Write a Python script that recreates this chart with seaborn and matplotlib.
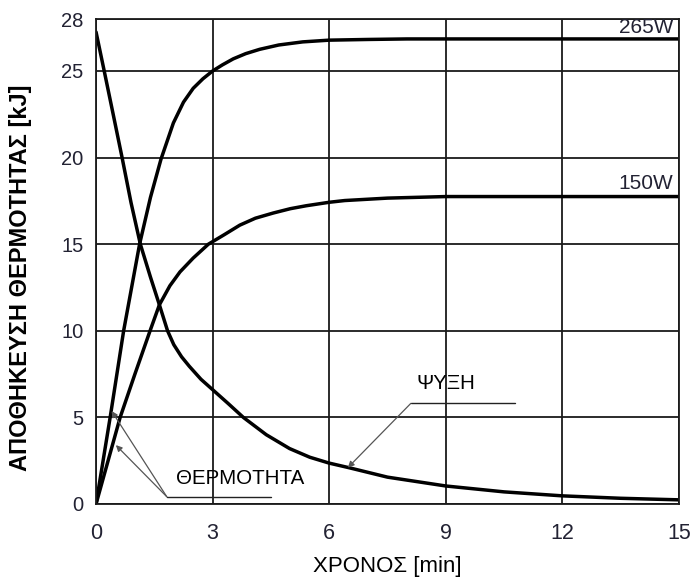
import numpy as np
import pandas as pd
import seaborn as sns
import matplotlib.pyplot as plt

# Values (time in min, stored heat in kJ)
t_265 = [0, 0.37, 0.71, 1.12, 1.40, 1.67, 1.99, 2.25, 2.50, 2.75, 3.00, 3.25, 3.53, 3.85,
         4.21, 4.70, 5.32, 6.00, 7.00, 8.00, 10.0, 12.0, 15.0]
q_265 = [0, 5.1, 10.0, 15.0, 17.7, 19.9, 22.0, 23.2, 24.0, 24.55, 25.0, 25.35, 25.7, 26.0,
         26.25, 26.5, 26.68, 26.78, 26.82, 26.85, 26.85, 26.85, 26.85]

t_150 = [0, 0.62, 1.00, 1.39, 1.63, 1.90, 2.16, 2.50, 2.89, 3.30, 3.70, 4.10, 4.56, 5.00,
         5.41, 6.00, 6.40, 7.50, 9.00, 12.0, 15.0]
q_150 = [0, 5.0, 7.5, 10.0, 11.5, 12.6, 13.4, 14.2, 15.0, 15.55, 16.1, 16.5, 16.8, 17.05,
         17.22, 17.42, 17.52, 17.66, 17.75, 17.75, 17.75]

t_cool = [0, 0.21, 0.45, 0.67, 0.90, 1.14, 1.40, 1.63, 1.84, 2.00, 2.20, 2.40, 2.70, 3.00,
          3.40, 3.79, 4.38, 4.98, 5.50, 6.00, 6.50, 7.50, 9.00, 10.5, 12.0, 13.5, 15.0]
q_cool = [27.25, 25.0, 22.4, 20.0, 17.4, 15.0, 13.1, 11.5, 10.0, 9.2, 8.5, 7.95, 7.2, 6.6,
          5.8, 5.0, 4.0, 3.2, 2.7, 2.36, 2.1, 1.55, 1.04, 0.70, 0.47, 0.33, 0.24]

x_ticks = [0, 3, 6, 9, 12, 15]
y_ticks = [0, 5, 10, 15, 20, 25, 28]

sns.set_theme(style="white")
plt.rcParams['font.family'] = ['Liberation Sans', 'DejaVu Sans']

fig = plt.figure(figsize=(6.91, 5.87), dpi=100)
ax = fig.add_axes([0.139, 0.1414, 0.8436, 0.8262])

for t, q in [(t_265, q_265), (t_150, q_150), (t_cool, q_cool)]:
    sns.lineplot(x=t, y=q, ax=ax, color='black', linewidth=2.5, sort=False,
                 solid_joinstyle='round', solid_capstyle='round')

ax.set_xlim(0, 15)
ax.set_ylim(0, 28)
ax.set_xticks(x_ticks)
ax.set_yticks(y_ticks)
ax.grid(True, color='#1a1a1a', linewidth=1.3)
ax.set_axisbelow(True)
for s in ax.spines.values():
    s.set_color('#1a1a1a')
    s.set_linewidth(1.3)
ax.tick_params(axis='both', length=0, colors='#222233')
ax.tick_params(axis='x', pad=14, labelsize=15.5)
ax.tick_params(axis='y', pad=9, labelsize=14.5)

ax.set_xlabel('ΧΡΟΝΟΣ [min]', fontsize=16, color='black', labelpad=8)
ax.set_ylabel('ΑΠΟΘΗΚΕΥΣΗ ΘΕΡΜΟΤΗΤΑΣ [kJ]', fontsize=17, fontweight='bold', color='black')
ax.yaxis.set_label_coords(-0.11, 0.466)

# curve labels
ax.text(14.85, 26.95, '265W', ha='right', va='bottom', fontsize=15, color='#222233')
ax.text(14.85, 17.95, '150W', ha='right', va='bottom', fontsize=15, color='#222233')

# annotations with leaders
arrow = dict(arrowstyle='-|>', color='#555555', lw=0.9, mutation_scale=9, shrinkA=0, shrinkB=0)
ax.plot([1.82, 4.51], [0.42, 0.42], color='#222222', lw=1.0)
ax.annotate('', xy=(0.40, 5.37), xytext=(1.82, 0.42), arrowprops=arrow)
ax.annotate('', xy=(0.51, 3.4), xytext=(1.82, 0.42), arrowprops=arrow)
ax.text(2.05, 1.5, 'ΘΕΡΜΟΤΗΤΑ', ha='left', va='center', fontsize=14.8, color='black')

ax.plot([8.1, 10.77], [5.81, 5.81], color='#222222', lw=1.0)
ax.annotate('', xy=(6.48, 2.1), xytext=(8.1, 5.81), arrowprops=arrow)
ax.text(9.0, 6.95, 'ΨΥΞΗ', ha='center', va='center', fontsize=14.8, color='black')

fig.savefig('out.png', dpi=100)
